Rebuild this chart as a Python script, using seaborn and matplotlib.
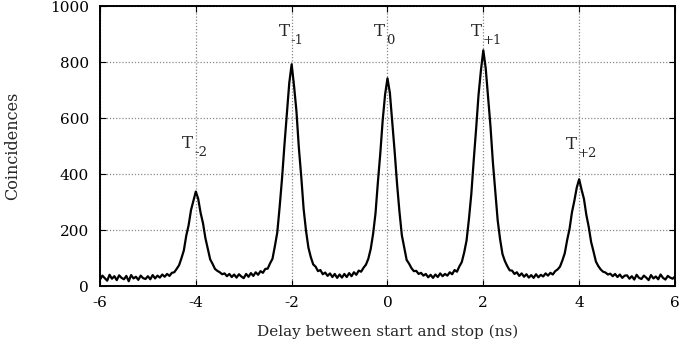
import numpy as np
import pandas as pd
import matplotlib.pyplot as plt
import seaborn as sns

# Delay bins (ns), 0.05 ns wide, from -6 to 6
delay_ns = np.linspace(-6, 6, 241)

# Coincidence counts, one row per 1 ns
counts = (
    [24, 38, 29, 20, 41, 27, 36, 22, 39, 30, 25, 37, 18, 40, 28, 34, 23, 38, 29, 26]            # -6 .. -5.05
    + [36, 25, 40, 28, 38, 31, 42, 34, 44, 37, 48, 50, 62, 75, 100, 128, 180, 218, 272, 305]  # -5 .. -4.05
    + [338, 312, 262, 225, 172, 134, 96, 80, 62, 55, 50, 43, 46, 36, 44, 33, 42, 31, 43, 35]  # -4 .. -3.05
    + [29, 44, 34, 47, 37, 50, 41, 54, 48, 62, 63, 82, 98, 143, 192, 284, 386, 505, 615, 725]  # -3 .. -2.05
    + [792, 715, 625, 495, 392, 276, 198, 138, 104, 78, 70, 54, 58, 43, 49, 37, 46, 33, 44, 30]  # -2 .. -1.05
    + [42, 31, 44, 33, 47, 36, 50, 41, 56, 52, 66, 77, 98, 133, 187, 260, 372, 474, 592, 684]  # -1 .. -0.05
    + [742, 690, 585, 480, 365, 266, 182, 137, 94, 81, 65, 54, 55, 44, 48, 38, 44, 32, 41, 30]  # 0 .. 0.95
    + [42, 33, 46, 36, 44, 38, 50, 43, 58, 52, 71, 86, 120, 163, 240, 330, 450, 562, 682, 770]  # 1 .. 1.95
    + [842, 778, 672, 570, 442, 338, 235, 168, 115, 90, 72, 57, 56, 44, 50, 37, 46, 34, 43, 31]  # 2 .. 2.95
    + [40, 30, 43, 32, 41, 35, 46, 38, 48, 42, 54, 60, 70, 92, 118, 165, 205, 264, 305, 352]  # 3 .. 3.95
    + [382, 345, 312, 255, 212, 158, 124, 88, 72, 60, 52, 49, 42, 45, 36, 44, 33, 42, 30, 38]  # 4 .. 4.95
    + [39, 27, 36, 24, 41, 30, 26, 38, 31, 22, 40, 28, 35, 25, 42, 30, 24, 37, 31, 27, 35]  # 5 .. 6
)

peak_names = ['-2', '-1', '0', '+1', '+2']
peak_label_x = [-4.17, -2.16, -0.16, 1.85, 3.83]
peak_label_y = [508, 908, 908, 908, 506]

df = pd.DataFrame({'delay': delay_ns, 'counts': counts})

sns.set_style("ticks")
plt.rcParams['font.family'] = ['DejaVu Serif']
plt.rcParams['axes.unicode_minus'] = False

fig = plt.figure(figsize=(6.82, 3.39), dpi=100)
ax = fig.add_axes([0.1466, 0.1555, 0.8431, 0.8268])

sns.lineplot(data=df, x='delay', y='counts', color='black', linewidth=1.6, ax=ax)

ax.set_xlim(-6, 6)
ax.set_ylim(0, 1000)
ax.set_xticks(range(-6, 7, 2))
ax.set_yticks(range(0, 1001, 200))
ax.grid(True, color='#888888', linestyle=(0, (1, 1.5)), linewidth=0.9)
ax.tick_params(direction='in', top=True, right=True, length=4, labelsize=11, colors='black')
ax.tick_params(axis='x', pad=7)
ax.tick_params(axis='y', pad=8)
for s in ax.spines.values():
    s.set_linewidth(1.4)
    s.set_color('black')

ax.set_xlabel('Delay between start and stop (ns)', fontsize=11)
ax.set_ylabel('Coincidences', fontsize=11.5)
ax.xaxis.set_label_coords(0.5, -0.135)
ax.yaxis.set_label_coords(-0.137, 0.5)

# T labels with hyphen subscripts
for name, lx, ly in zip(peak_names, peak_label_x, peak_label_y):
    ax.text(lx, ly, 'T', fontsize=12, ha='center', va='center')
    ax.annotate(name, xy=(lx, ly), xytext=(4.5, -6.5), textcoords='offset points',
                fontsize=9.5, ha='left', va='center')

fig.savefig('out.png', dpi=100)
